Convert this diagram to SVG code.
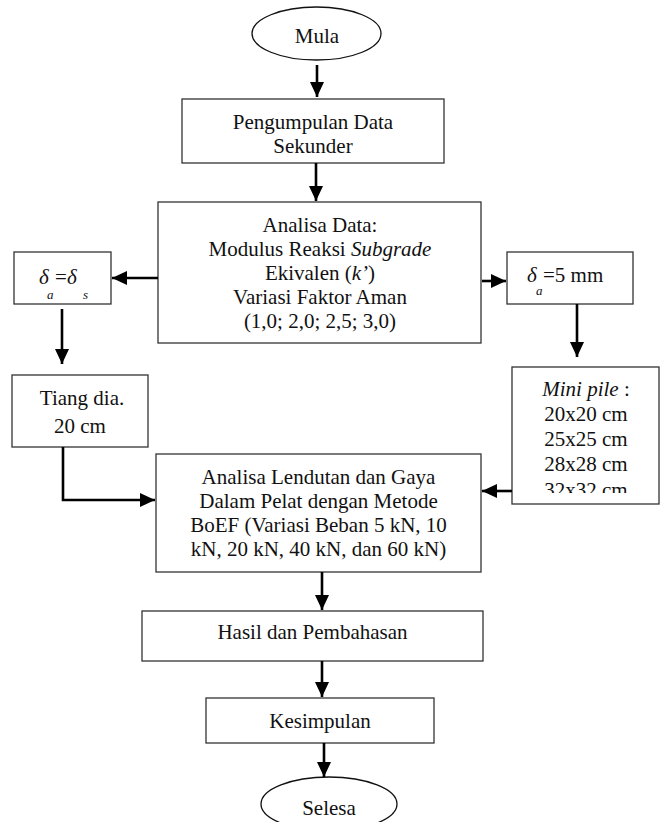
<svg xmlns="http://www.w3.org/2000/svg" width="666" height="822" viewBox="0 0 666 822">
<style>
.box{fill:#fff;stroke:#333;stroke-width:1.3}
.t{font-family:"Liberation Serif","Times New Roman",serif;font-size:21px;fill:#111;text-anchor:middle}
.ts{font-family:"Liberation Serif","Times New Roman",serif;fill:#111}
.i{font-style:italic}
.c{fill:none;stroke:#000;stroke-width:2.6}
</style>
<defs>
<marker id="ah" markerUnits="userSpaceOnUse" markerWidth="16" markerHeight="16" viewBox="0 0 16 16" refX="15" refY="8" orient="auto">
<path d="M0,1 L15,8 L0,15 Z" fill="#000"/>
</marker>
<clipPath id="mpclip"><rect x="512" y="367" width="147" height="126"/></clipPath>
</defs>
<rect width="666" height="822" fill="#fff"/>

<g id="mula">
<ellipse cx="316.5" cy="33.5" rx="64.5" ry="26.5" fill="#fff" stroke="#111" stroke-width="1.3"/>
<text class="t" x="317" y="43">Mula</text>
</g>

<g id="pengumpulan">
<rect class="box" x="182" y="99" width="262" height="64"/>
<text class="t" x="313" y="129">Pengumpulan Data</text>
<text class="t" x="313" y="153">Sekunder</text>
</g>

<g id="analisa">
<rect class="box" x="158" y="202" width="323" height="141"/>
<text class="t" x="320" y="232">Analisa Data:</text>
<text class="t" x="320" y="256">Modulus Reaksi <tspan class="i">Subgrade</tspan></text>
<text class="t" x="320" y="280">Ekivalen (<tspan class="i">k’</tspan>)</text>
<text class="t" x="320" y="304">Variasi Faktor Aman</text>
<text class="t" x="320" y="328">(1,0; 2,0; 2,5; 3,0)</text>
</g>

<g id="delta-s">
<rect class="box" x="14" y="252" width="97" height="52"/>
<text class="ts i" x="39" y="284" font-size="21">δ</text>
<text class="ts i" x="47" y="299" font-size="13">a</text>
<text class="ts" x="55" y="284" font-size="21">=</text>
<text class="ts i" x="67" y="284" font-size="21">δ</text>
<text class="ts i" x="83" y="299" font-size="13">s</text>
</g>

<g id="delta-5mm">
<rect class="box" x="507" y="252" width="126" height="52"/>
<text class="ts i" x="527" y="282" font-size="21">δ</text>
<text class="ts i" x="536" y="295" font-size="13">a</text>
<text class="ts" x="543" y="282" font-size="21">=5 mm</text>
</g>

<g id="tiang">
<rect class="box" x="12" y="375" width="136" height="72"/>
<text class="t" x="82" y="405">Tiang dia.</text>
<text class="t" x="80" y="433">20 cm</text>
</g>

<g id="minipile">
<rect class="box" x="512" y="367" width="147" height="137"/>
<g clip-path="url(#mpclip)">
<text class="t" x="586" y="396"><tspan class="i">Mini pile</tspan> :</text>
<text class="t" x="586" y="421">20x20 cm</text>
<text class="t" x="586" y="446">25x25 cm</text>
<text class="t" x="586" y="471">28x28 cm</text>
<text class="t" x="586" y="497">32x32 cm</text>
</g>
</g>

<g id="lendutan">
<rect class="box" x="156" y="454" width="325" height="118"/>
<text class="t" x="318.5" y="484">Analisa Lendutan dan Gaya</text>
<text class="t" x="318.5" y="508">Dalam Pelat dengan Metode</text>
<text class="t" x="318.5" y="532">BoEF (Variasi Beban 5 kN, 10</text>
<text class="t" x="318.5" y="556">kN, 20 kN, 40 kN, dan 60 kN)</text>
</g>

<g id="hasil">
<rect class="box" x="142" y="611" width="341" height="50"/>
<text class="t" x="312.5" y="639">Hasil dan Pembahasan</text>
</g>

<g id="kesimpulan">
<rect class="box" x="206" y="698" width="228" height="45"/>
<text class="t" x="320" y="728">Kesimpulan</text>
</g>

<g id="selesa">
<ellipse cx="329" cy="804" rx="68" ry="27" fill="#fff" stroke="#111" stroke-width="1.3"/>
<text class="t" x="329" y="815">Selesa</text>
</g>

<g id="connectors">
<path class="c" d="M317,65 V97" marker-end="url(#ah)"/>
<path class="c" d="M316,163 V201" marker-end="url(#ah)"/>
<path class="c" d="M158,278 H112" marker-end="url(#ah)"/>
<path class="c" d="M482,281 H506" marker-end="url(#ah)"/>
<path class="c" d="M62,309 V364" marker-end="url(#ah)"/>
<path class="c" d="M577,304 V357" marker-end="url(#ah)"/>
<path class="c" d="M63,447 V500 H155" marker-end="url(#ah)"/>
<path class="c" d="M512,491 H482" marker-end="url(#ah)"/>
<path class="c" d="M322,572 V610" marker-end="url(#ah)"/>
<path class="c" d="M322,661 V697" marker-end="url(#ah)"/>
<path class="c" d="M324,743 V777" marker-end="url(#ah)"/>
</g>
</svg>
